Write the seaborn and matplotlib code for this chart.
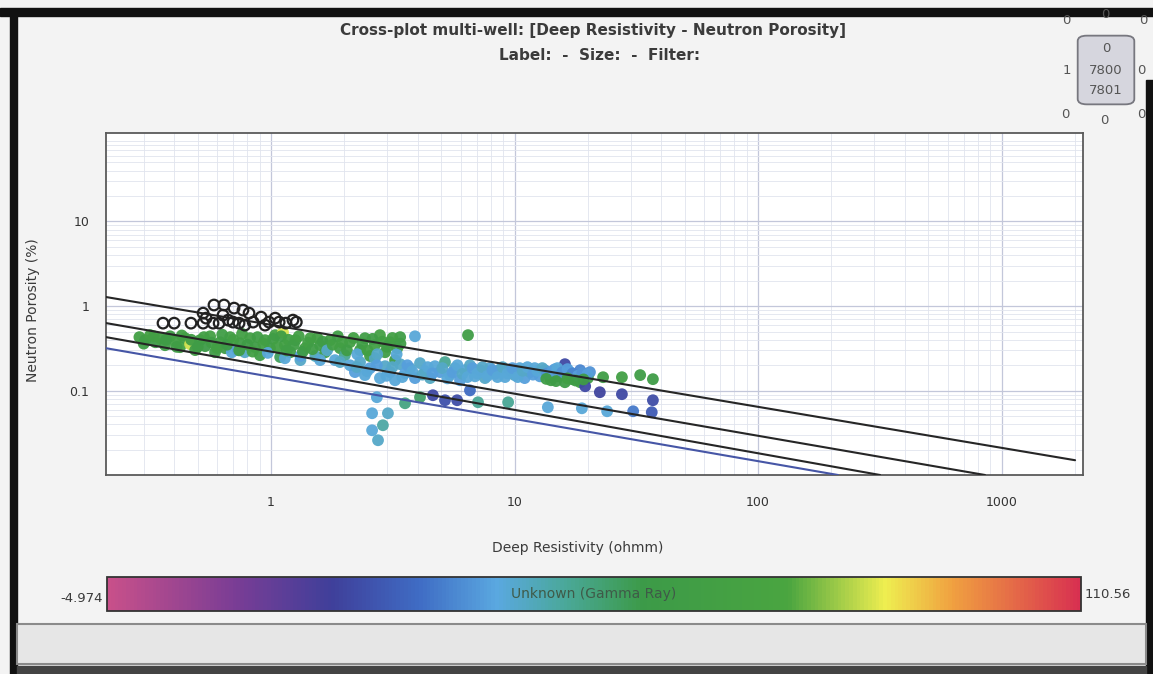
import numpy as np
import pandas as pd
import matplotlib
matplotlib.use("Agg")
import matplotlib.pyplot as plt
import matplotlib.ticker as mticker
from matplotlib.colors import LinearSegmentedColormap, Normalize
from matplotlib.patches import Rectangle, FancyBboxPatch
import seaborn as sns

# ---------------- data ----------------
# points without gamma-ray value (hollow black circles)
rd_nogr = [0.36, 0.40, 0.469, 0.526, 0.526, 0.541, 0.578, 0.583, 0.612, 0.635, 0.641,
           0.698, 0.705, 0.739, 0.767, 0.812, 0.844, 0.91, 0.981, 1.08, 1.15, 1.23,
           1.27, 0.78, 0.945, 1.04, 0.667]
nphi_nogr = [0.629, 0.629, 0.629, 0.826, 0.629, 0.721, 0.629, 1.03, 0.629, 0.782, 1.03,
             0.647, 0.947, 0.629, 0.897, 0.826, 0.647, 0.741, 0.647, 0.647, 0.629, 0.683,
             0.647, 0.596, 0.596, 0.721, 0.683]

# points coloured by gamma ray
rd = [0.288, 0.304, 0.319, 0.335, 0.350, 0.367, 0.385, 0.404, 0.423, 0.444, 0.465, 0.488,
      0.511, 0.536, 0.562, 0.589, 0.618, 0.648, 0.679, 0.69, 0.73, 0.78, 0.746, 0.82,
      0.86, 0.90, 0.945, 0.99, 1.04, 1.09, 1.12, 1.14, 1.20, 1.26, 1.32, 1.38, 1.45,
      1.52, 1.59, 1.67, 1.75, 1.83, 1.92, 2.01, 2.11, 2.32, 2.43, 2.55, 2.67, 2.80,
      2.94, 3.08, 3.23, 3.30, 3.39, 3.90, 6.44,
      1.32, 1.59, 1.92, 1.14,
      2.11, 2.21, 2.32, 2.43, 2.55, 2.67, 2.80, 2.94, 3.08, 3.23, 3.39, 3.55, 3.72, 3.90,
      4.09, 4.29, 4.50, 4.71, 4.94, 5.18, 5.43, 5.69, 5.97, 6.26, 6.56, 6.88, 7.21, 7.56,
      7.93, 8.31, 8.72, 9.14, 9.58, 10.0, 10.5, 11.0, 11.6, 12.1, 12.7, 13.3, 14.0, 14.6,
      15.4, 16.1, 16.9, 17.7, 18.6, 19.5, 20.4,
      14.1, 15.0, 16.1, 17.2, 18.6, 20.0, 23.1, 27.6, 32.8, 37.0,
      19.5, 22.4, 27.6, 37.0, 36.6, 4.62, 5.18, 5.81, 6.56,
      30.7, 24.0, 18.9, 13.7, 9.41, 7.08, 4.09, 3.55,
      2.72, 2.60, 3.02, 2.88, 2.60, 2.75,
      # dense shale band, second pass
      0.30, 0.33, 0.37, 0.41, 0.43, 0.47, 0.50, 0.53, 0.57, 0.60, 0.63, 0.66, 0.70, 0.74,
      0.76, 0.80, 0.84, 0.88, 0.93, 0.97, 1.02, 1.06, 1.10, 1.16, 1.18, 1.24, 1.30, 1.35,
      1.42, 1.48, 1.55, 1.63, 1.70, 1.79, 1.88, 1.96, 2.05, 2.18, 2.26, 2.37, 2.49, 2.61,
      2.73, 2.87, 3.00, 3.15, 3.28, 3.40,
      # sand band, second pass
      2.25, 2.48, 2.72, 2.98, 3.15, 3.46, 3.63, 3.80, 4.19, 4.40, 4.60, 5.05, 5.30, 5.56,
      5.83, 6.11, 6.41, 6.72, 7.04, 7.38, 7.74, 8.11, 8.51, 8.93, 9.36, 9.80, 10.3, 10.8,
      11.3, 11.9, 12.4, 13.0, 13.6, 14.3, 15.0, 15.7, 16.5, 17.3, 18.2, 19.0, 19.9,
      13.5, 14.8, 16.5, 17.8, 19.2]
nphi = [0.43, 0.396, 0.454, 0.374, 0.418, 0.345, 0.44, 0.385, 0.327, 0.418, 0.355, 0.302,
        0.396, 0.336, 0.44, 0.285, 0.374, 0.318, 0.43, 0.285, 0.302, 0.285, 0.364, 0.418,
        0.327, 0.263, 0.396, 0.318, 0.454, 0.25, 0.49, 0.345, 0.285, 0.396, 0.23, 0.318,
        0.418, 0.257, 0.345, 0.285, 0.396, 0.23, 0.318, 0.263, 0.374, 0.302, 0.418, 0.257,
        0.345, 0.454, 0.285, 0.374, 0.23, 0.318, 0.43, 0.44, 0.454,
        0.257, 0.23, 0.218, 0.242,
        0.20, 0.166, 0.218, 0.153, 0.185, 0.242, 0.141, 0.195, 0.166, 0.133, 0.206, 0.161,
        0.185, 0.141, 0.212, 0.170, 0.141, 0.195, 0.166, 0.218, 0.153, 0.185, 0.133, 0.175,
        0.20, 0.148, 0.175, 0.141, 0.185, 0.158, 0.179, 0.145, 0.175, 0.153, 0.185, 0.141,
        0.166, 0.185, 0.148, 0.175, 0.145, 0.179, 0.153, 0.206, 0.166, 0.141, 0.175, 0.153,
        0.166,
        0.133, 0.148, 0.126, 0.137, 0.126, 0.141, 0.1445, 0.1445, 0.153, 0.137,
        0.113, 0.096, 0.091, 0.0772, 0.0557, 0.0885, 0.0772, 0.0772, 0.101,
        0.0572, 0.0572, 0.062, 0.0638, 0.0731, 0.0731, 0.0838, 0.0711,
        0.0838, 0.0542, 0.0542, 0.0391, 0.0341, 0.026,
        0.36, 0.44, 0.40, 0.33, 0.45, 0.40, 0.33, 0.43, 0.37, 0.32, 0.46, 0.35, 0.40, 0.30,
        0.47, 0.35, 0.29, 0.43, 0.36, 0.28, 0.41, 0.33, 0.44, 0.30, 0.40, 0.35, 0.44, 0.29,
        0.37, 0.31, 0.42, 0.38, 0.30, 0.35, 0.44, 0.37, 0.30, 0.42, 0.27, 0.36, 0.30, 0.41,
        0.27, 0.38, 0.33, 0.42, 0.27, 0.36,
        0.19, 0.17, 0.20, 0.15, 0.19, 0.145, 0.20, 0.17, 0.155, 0.19, 0.16, 0.185, 0.14, 0.165,
        0.20, 0.158, 0.145, 0.185, 0.16, 0.19, 0.15, 0.175, 0.145, 0.19, 0.16, 0.185, 0.145,
        0.172, 0.19, 0.155, 0.172, 0.185, 0.16, 0.17, 0.185, 0.165, 0.18, 0.16, 0.15, 0.162,
        0.155,
        0.138, 0.13, 0.14, 0.132, 0.136]
gr = [66, 64, 68, 60, 66, 64, 62, 66, 68, 64, 85, 64,
      66, 60, 68, 64, 66, 62, 66, 42, 40, 44, 64, 66,
      62, 64, 66, 60, 68, 56, 86, 66, 64, 62, 44, 66,
      68, 46, 64, 62, 66, 42, 64, 50, 66, 66, 64, 62,
      66, 68, 64, 66, 60, 66, 64, 42, 64,
      40, 42, 44, 42,
      42, 40, 44, 42, 40, 45, 42, 44, 40, 42, 44, 41,
      43, 40, 44, 42, 45, 42, 40, 50, 42, 44, 40, 42,
      44, 42, 40, 44, 42, 40, 44, 42, 40, 44, 42, 40,
      44, 42, 40, 38, 36, 40, 38, 24, 40, 38, 36, 40,
      38,
      64, 66, 62, 64, 66, 62, 64, 66, 64, 62,
      24, 23, 24, 25, 28, 24, 26, 25, 32,
      34, 42, 42, 42, 50, 50, 55, 52,
      42, 42, 44, 48, 42, 44,
      64, 66, 62, 64, 66, 64, 62, 66, 64, 66, 64, 60, 66, 64,
      66, 62, 66, 64, 66, 42, 64, 66, 62, 64, 66, 64, 66, 62,
      66, 64, 66, 62, 44, 66, 64, 66, 64, 66, 42, 64, 66, 62,
      44, 66, 64, 66, 42, 64,
      44, 42, 40, 42, 44, 42, 40, 42, 44, 42, 40, 44, 42, 40,
      42, 44, 42, 40, 42, 44, 42, 40, 42, 44, 42, 40, 42,
      44, 42, 40, 42, 44, 38, 40, 42, 38, 40, 36, 40, 38,
      40,
      64, 62, 66, 64, 62]

gr_min, gr_max = -4.974, 110.56

# water-saturation reference lines: end points
line_rd = [[0.21, 2004.0], [0.21, 855.0], [0.21, 317.0], [0.21, 213.0]]
line_nphi = [[1.28, 0.0151], [0.63, 0.0101], [0.43, 0.0101], [0.318, 0.0101]]
line_colors = ["#262626", "#262626", "#262626", "#4656a6"]

x_ticks = [1, 10, 100, 1000]
x_ticklabels = ["1", "10", "100", "1000"]
y_ticks = [0.1, 1, 10]
y_ticklabels = ["0.1", "1", "10"]

# ---------------- style ----------------
sns.set_theme(style="white")
plt.rcParams["font.family"] = ["DejaVu Sans"]

W, H = 1153, 674
fig = plt.figure(figsize=(W / 100, H / 100), dpi=100)
fig.patch.set_facecolor("#f3f3f3")

def fx(px):
    return px / W

def fy(py):
    return 1 - py / H

# scanned window frame decorations
fig.add_artist(Rectangle((0, fy(16)), 1, 8 / H, transform=fig.transFigure,
                         color="#111111", zorder=0))
fig.add_artist(Rectangle((fx(10), 0), 7 / W, fy(10), transform=fig.transFigure,
                         color="#111111", zorder=0))
fig.add_artist(Rectangle((fx(1146), 0), 7 / W, fy(80), transform=fig.transFigure,
                         color="#111111", zorder=0))
fig.add_artist(Rectangle((fx(17), fy(664)), fx(1129), 40 / H, transform=fig.transFigure,
                         facecolor="#e6e6e6", edgecolor="#8a8a8a", lw=1.5, zorder=0))
fig.add_artist(Rectangle((fx(17), fy(674)), fx(1129), 8 / H, transform=fig.transFigure,
                         color="#444444", zorder=0))

cmap = LinearSegmentedColormap.from_list(
    "gr",
    [(0.0, "#c8508a"), (0.13, "#7a3d95"), (0.23, "#3f3f9a"), (0.32, "#3f6cc4"),
     (0.40, "#5aa8e0"), (0.47, "#4aa89a"), (0.55, "#3c9a48"), (0.70, "#4aa540"),
     (0.80, "#eeee50"), (0.87, "#f0a040"), (1.0, "#d83050")])
norm = Normalize(gr_min, gr_max)

ax = fig.add_axes([fx(106), fy(475), fx(1083 - 106), (475 - 133) / H])
ax.set_facecolor("white")
ax.set_xscale("log")
ax.set_yscale("log")
ax.set_xlim(0.21, 2160)
ax.set_ylim(0.0101, 111)

ax.xaxis.set_minor_locator(mticker.LogLocator(base=10, subs=np.arange(2, 10)))
ax.yaxis.set_minor_locator(mticker.LogLocator(base=10, subs=np.arange(2, 10)))
ax.xaxis.set_minor_formatter(mticker.NullFormatter())
ax.yaxis.set_minor_formatter(mticker.NullFormatter())
ax.set_xticks(x_ticks)
ax.set_xticklabels(x_ticklabels)
ax.set_yticks(y_ticks)
ax.set_yticklabels(y_ticklabels)
ax.grid(which="major", color="#c3c7da", lw=0.9)
ax.grid(which="minor", color="#e1e4ee", lw=0.6)
ax.set_axisbelow(True)
ax.tick_params(which="both", length=0, labelsize=9, colors="#333333")
ax.tick_params(axis="x", pad=15)
ax.tick_params(axis="y", pad=12)
for s in ax.spines.values():
    s.set_color("#5a5a5a")
    s.set_linewidth(1.3)

for lx, ly, lc in zip(line_rd, line_nphi, line_colors):
    sns.lineplot(x=lx, y=ly, color=lc, lw=1.5, ax=ax, zorder=4)

sns.scatterplot(x=rd_nogr, y=nphi_nogr, ax=ax, s=58, marker="o",
                facecolor="none", edgecolor="#222222", linewidth=1.6, zorder=5)
df = pd.DataFrame({"rd": rd, "nphi": nphi, "gr": gr})
sns.scatterplot(data=df, x="rd", y="nphi", hue="gr", palette=cmap, hue_norm=norm,
                legend=False, s=72, linewidth=0, alpha=0.95, ax=ax, zorder=3)
ax.set_xlabel("")
ax.set_ylabel("")

# titles and labels
tc = "#3b3b3b"
fig.text(fx(593), fy(31), "Cross-plot multi-well: [Deep Resistivity - Neutron Porosity]",
         ha="center", va="center", fontsize=11, fontweight="bold", color=tc)
fig.text(fx(600), fy(56), "Label:  -  Size:  -  Filter:",
         ha="center", va="center", fontsize=11, fontweight="bold", color=tc)
fig.text(fx(578), fy(548), "Deep Resistivity (ohmm)", ha="center", va="center",
         fontsize=10, color=tc)
fig.text(fx(33), fy(310), "Neutron Porosity (%)", ha="center", va="center",
         fontsize=10, color=tc, rotation=90)

# top-right widget
fig.add_artist(FancyBboxPatch((fx(1080), fy(103)), fx(52), 66 / H,
                              boxstyle="round,pad=0.002,rounding_size=0.008",
                              transform=fig.transFigure, facecolor="#d6d6de",
                              edgecolor="#77777f", lw=1.3))
wc = "#555555"
for (px, py, t) in [(1066, 20, "0"), (1105, 14, "0"), (1143, 20, "0"),
                    (1067, 70, "1"), (1141, 70, "0"),
                    (1065, 115, "0"), (1104, 120, "0"), (1141, 115, "0"),
                    (1106, 49, "0"), (1106, 70, "7800"), (1106, 90, "7801")]:
    fig.text(fx(px), fy(py), t, ha="center", va="center", fontsize=9.5, color=wc)

# colour bar
cax = fig.add_axes([fx(107), fy(611), fx(1081 - 107), 34 / H])
sm = plt.cm.ScalarMappable(norm=norm, cmap=cmap)
cb = fig.colorbar(sm, cax=cax, orientation="horizontal")
cb.set_ticks([])
cb.outline.set_edgecolor("#333333")
cb.outline.set_linewidth(1.3)
cax.text(0.5, 0.5, "Unknown (Gamma Ray)", transform=cax.transAxes, ha="center",
         va="center", fontsize=10, color="#3f5a48")
fig.text(fx(103), fy(598), "-4.974", ha="right", va="center", fontsize=9.5, color=tc)
fig.text(fx(1085), fy(595), "110.56", ha="left", va="center", fontsize=9.5, color=tc)

fig.savefig("out.png", dpi=100, facecolor=fig.get_facecolor())
